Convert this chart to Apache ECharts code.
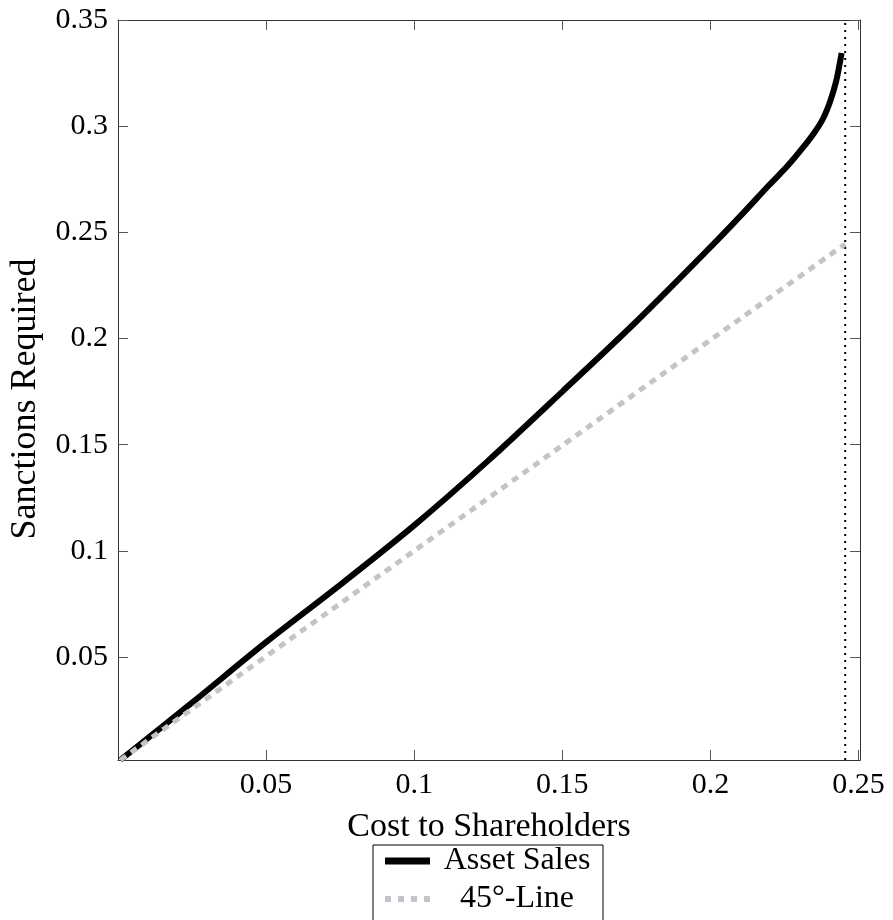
<!DOCTYPE html>
<html>
<head>
<meta charset="utf-8">
<script src="https://cdn.jsdelivr.net/npm/echarts@6/dist/echarts.min.js"></script>
<style>
html,body{margin:0;padding:0;background:#fff;}
#chart{width:893px;height:920px;}
</style>
</head>
<body>
<div id="chart"></div>
<script>
// ---- data ----
var assetX = [0.0008, 0.025, 0.05, 0.075, 0.1, 0.125, 0.15, 0.175, 0.2, 0.21, 0.22, 0.226, 0.231, 0.235, 0.238, 0.2405, 0.2425, 0.2443];
var assetY = [0.0015, 0.0285, 0.057, 0.084, 0.112, 0.1425, 0.175, 0.208, 0.243, 0.2575, 0.2725, 0.2812, 0.2895, 0.2968, 0.3035, 0.312, 0.3215, 0.3345];
var lineX = [0.0008, 0.2455];
var lineY = [0.0015, 0.2445];
var limitX = [0.2455, 0.2455];
var limitY = [0.0015, 0.35];
var xTicks = [0.05, 0.1, 0.15, 0.2, 0.25];
var yTicks = [0.05, 0.1, 0.15, 0.2, 0.25, 0.3, 0.35];
var seriesNames = ['Asset Sales', '45°-Line'];

function zip(a, b) { return a.map(function (v, i) { return [v, b[i]]; }); }

var FONT = "'Liberation Serif','Times New Roman',serif";
var axisLineStyle = { color: '#333', width: 1 };

function mkX(pos, main) {
  return {
    type: 'value', position: pos, min: 0, max: 0.2505,
    axisLine: { show: true, onZero: false, lineStyle: axisLineStyle },
    axisTick: { show: true, inside: true, length: 10, customValues: xTicks, lineStyle: { color: '#555', width: 1 } },
    axisLabel: { show: main, customValues: xTicks, margin: 10, color: '#000', fontFamily: FONT, fontSize: 30 },
    splitLine: { show: false },
    name: main ? 'Cost to Shareholders' : '',
    nameLocation: 'middle', nameGap: 50,
    nameTextStyle: { color: '#000', fontFamily: FONT, fontSize: 34 }
  };
}
function mkY(pos, main) {
  return {
    type: 'value', position: pos, min: 0.0015, max: 0.35,
    axisLine: { show: true, onZero: false, lineStyle: axisLineStyle },
    axisTick: { show: true, inside: true, length: 10, customValues: yTicks, lineStyle: { color: '#555', width: 1 } },
    axisLabel: { show: main, customValues: yTicks, margin: 10, color: '#000', fontFamily: FONT, fontSize: 30 },
    splitLine: { show: false },
    name: main ? 'Sanctions Required' : '',
    nameLocation: 'middle', nameGap: 74, nameRotate: 90,
    nameTextStyle: { color: '#000', fontFamily: FONT, fontSize: 36, padding: [0, 18, 0, 0] }
  };
}

var chart = echarts.init(document.getElementById('chart'), null, { renderer: 'canvas' });
chart.setOption({
  animation: false,
  backgroundColor: '#fff',
  grid: { left: 118, right: 33, top: 20, bottom: 160, containLabel: false },
  xAxis: [mkX('bottom', true), mkX('top', false)],
  yAxis: [mkY('left', true), mkY('right', false)],
  legend: {
    orient: 'vertical', left: 373, top: 845, height: 110,
    data: [
      { name: seriesNames[0], icon: 'rect' },
      { name: seriesNames[1], icon: 'path://M0,0h6v6h-6z M13,0h6v6h-6z M26,0h6v6h-6z M39,0h6v6h-6z' }
    ],
    itemWidth: 45, itemHeight: 7, itemGap: 6,
    padding: [0, 4, 30, 12],
    borderColor: '#000', borderWidth: 1, borderRadius: 0,
    formatter: function (n) { return '{c|' + n + '}'; },
    textStyle: {
      color: '#000', fontFamily: FONT, fontSize: 32,
      rich: { c: { width: 164, lineHeight: 32, align: 'center', fontFamily: FONT, fontSize: 32, color: '#000' } }
    }
  },
  series: [
    {
      name: seriesNames[0], type: 'line', xAxisIndex: 0, yAxisIndex: 0,
      data: zip(assetX, assetY), smooth: 0.3, symbol: 'none', showSymbol: false,
      lineStyle: { color: '#000', width: 6 }, itemStyle: { color: '#000' }
    },
    {
      name: 'limit', type: 'line', xAxisIndex: 0, yAxisIndex: 0,
      data: zip(limitX, limitY), symbol: 'none', showSymbol: false, silent: true,
      lineStyle: { color: '#000', width: 2, type: [2, 5] }, itemStyle: { color: '#000' }
    },
    {
      name: seriesNames[1], type: 'line', xAxisIndex: 0, yAxisIndex: 0,
      data: zip(lineX, lineY), symbol: 'none', showSymbol: false,
      lineStyle: { color: '#c1c5c9', width: 5, type: [7, 6] }, itemStyle: { color: '#c1c5c9' }
    }
  ]
});
</script>
</body>
</html>
